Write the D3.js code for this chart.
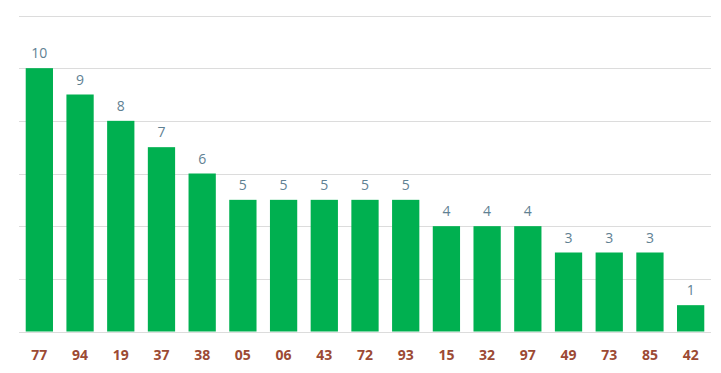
<!DOCTYPE html>
<html lang="en">
<head>
<meta charset="UTF-8" />
<title>Bar chart</title>
<style>
  html, body { margin: 0; padding: 0; background: #fff; }
  svg { display: block; }
  .grid line { stroke: #dcdcdc; stroke-width: 1; }
  .value { fill: #5f8193; font-family: "Open Sans", sans-serif; font-size: 14px; }
  .cat { fill: #9c4a34; font-family: "Open Sans", sans-serif; font-size: 14px; font-weight: bold; }
</style>
</head>
<body>
<svg width="721" height="373"></svg>
<script src="https://d3js.org/d3.v7.min.js"></script>
<script>
  const categories = ["77", "94", "19", "37", "38", "05", "06", "43", "72", "93", "15", "32", "97", "49", "73", "85", "42"];
  const values = [10, 9, 8, 7, 6, 5, 5, 5, 5, 5, 4, 4, 4, 3, 3, 3, 1];
  const gridTicks = [0, 2, 4, 6, 8, 10, 12];

  const svg = d3.select("svg");

  const x = d3.scaleBand()
    .domain(categories)
    .range([19, 711])
    .paddingInner(0.33)
    .paddingOuter(0.165);

  const y = d3.scaleLinear()
    .domain([0, 12])
    .range([331.5, 15.5]);

  // horizontal grid lines
  svg.append("g")
    .attr("class", "grid")
    .selectAll("line")
    .data(gridTicks)
    .join("line")
    .attr("x1", 19)
    .attr("x2", 711)
    .attr("y1", d => Math.round(y(d)) + 0.5)
    .attr("y2", d => Math.round(y(d)) + 0.5);

  const data = categories.map((c, i) => ({ cat: c, value: values[i] }));

  svg.append("g")
    .selectAll("rect")
    .data(data)
    .join("rect")
    .attr("x", d => x(d.cat))
    .attr("width", x.bandwidth())
    .attr("y", d => y(d.value))
    .attr("height", d => y(0) - y(d.value))
    .attr("fill", "#00b050");

  svg.append("g")
    .selectAll("text")
    .data(data)
    .join("text")
    .attr("class", "value")
    .attr("x", d => x(d.cat) + x.bandwidth() / 2)
    .attr("y", d => y(d.value) - 10)
    .attr("text-anchor", "middle")
    .text(d => d.value);

  // category axis labels
  svg.append("g")
    .selectAll("text")
    .data(categories)
    .join("text")
    .attr("class", "cat")
    .attr("x", d => x(d) + x.bandwidth() / 2)
    .attr("y", 360)
    .attr("text-anchor", "middle")
    .text(d => d);
</script>
</body>
</html>
